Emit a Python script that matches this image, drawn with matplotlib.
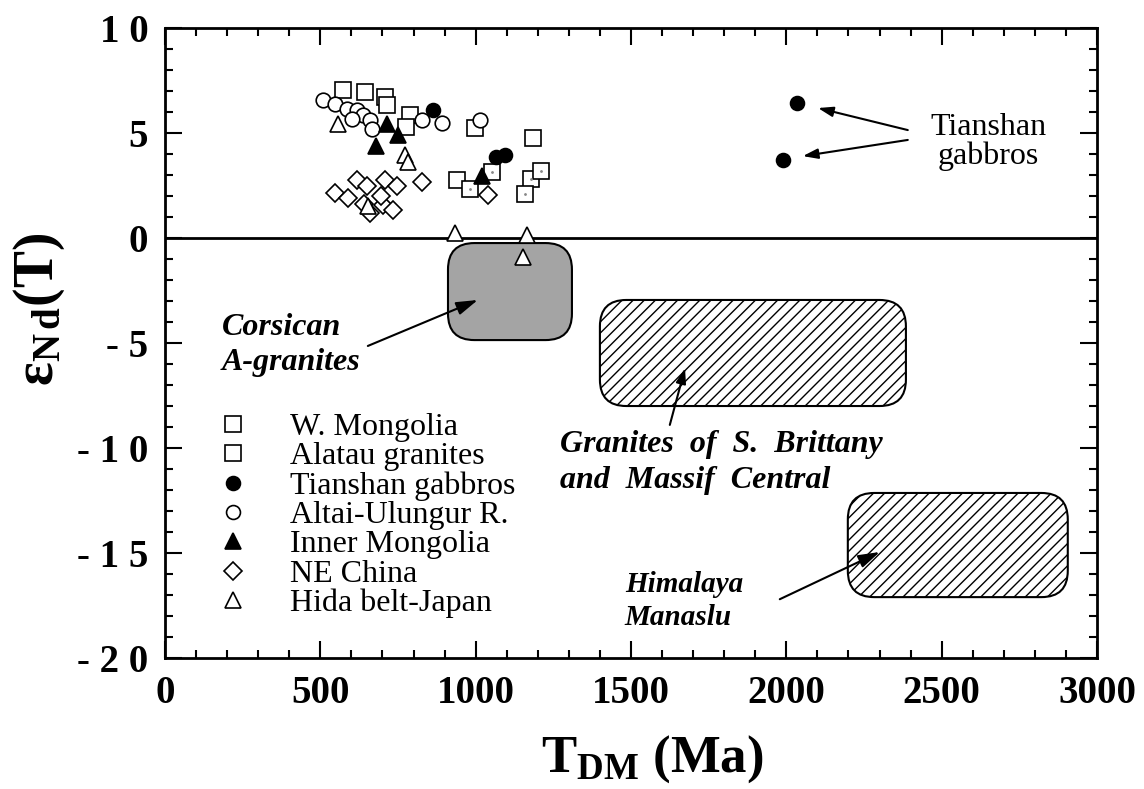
import numpy as np
import matplotlib
matplotlib.use('Agg')
import matplotlib.pyplot as plt
from matplotlib.patches import FancyBboxPatch
from matplotlib.lines import Line2D

plt.rcParams['font.family'] = ['Liberation Serif', 'DejaVu Serif']
plt.rcParams['mathtext.fontset'] = 'custom'
plt.rcParams['mathtext.rm'] = 'Liberation Serif'
plt.rcParams['mathtext.it'] = 'Liberation Serif:italic'
plt.rcParams['mathtext.bf'] = 'Liberation Serif:bold'
plt.rcParams['hatch.linewidth'] = 1.0

# T_DM (Ma) vs eps_Nd(T) for each group
w_mongolia_x = [573, 644, 708, 714, 789, 776, 998, 1184, 940]
w_mongolia_y = [7.05, 6.95, 6.71, 6.33, 5.86, 5.3, 5.24, 4.76, 2.76]

alatau_x = [982, 1052, 1178, 1210, 1159]
alatau_y = [2.33, 3.14, 2.81, 3.19, 2.1]

tianshan_x = [863, 1065, 1094, 2034, 1989]
tianshan_y = [6.1, 3.86, 3.95, 6.43, 3.71]

altai_x = [509, 547, 586, 618, 637, 602, 660, 666, 827, 892, 1014]
altai_y = [6.57, 6.38, 6.14, 6.10, 5.86, 5.67, 5.62, 5.19, 5.62, 5.48, 5.62]

inner_mongolia_x = [714, 750, 679, 1020]
inner_mongolia_y = [5.43, 4.9, 4.38, 2.95]

ne_china_x = [547, 589, 618, 650, 640, 702, 708, 747, 695, 734, 660, 827, 1040]
ne_china_y = [2.14, 1.9, 2.76, 2.48, 1.62, 1.57, 2.76, 2.48, 2.0, 1.33, 1.19, 2.67, 2.05]

hida_x = [557, 772, 782, 933, 1165, 1152, 653]
hida_y = [5.43, 3.95, 3.6, 0.24, 0.14, -0.9, 1.52]

# field outlines: (x0, x1, y0, y1)
corsica_box = (911, 1310, -4.86, -0.24)
brittany_box = (1400, 2385, -8.0, -2.95)
himalaya_box = (2198, 2906, -17.1, -12.14)

x_ticks = [0, 500, 1000, 1500, 2000, 2500, 3000]
y_ticks = [-20, -15, -10, -5, 0, 5, 10]
y_ticklabels = ['- 2 0', '- 1 5', '- 1 0', '- 5', '0', '5', '1 0']

fig = plt.figure(figsize=(11.44, 7.89), dpi=100)
ax = fig.add_axes([0.1442, 0.166, 0.8147, 0.7985])
ax.set_xlim(0, 3000)
ax.set_ylim(-20, 10)

# keep rounded corners round despite very different x/y units
aspect = (30 / 0.7985 / 7.89) / (3000 / 0.8147 / 11.44)


def field(box, **kw):
    x0, x1, y0, y1 = box
    p = FancyBboxPatch((x0, y0), x1 - x0, y1 - y0,
                       boxstyle='round,pad=0,rounding_size=85',
                       mutation_aspect=aspect, lw=1.5, zorder=1, **kw)
    ax.add_patch(p)


field(corsica_box, facecolor='#a4a4a4', edgecolor='black')
field(brittany_box, facecolor='white', edgecolor='black', hatch='///')
field(himalaya_box, facecolor='white', edgecolor='black', hatch='///')

ax.axhline(0, color='black', lw=2, zorder=2)

mk = dict(linestyle='none', markeredgecolor='black', markeredgewidth=1.2, zorder=3)
ax.plot(w_mongolia_x, w_mongolia_y, marker='s', markersize=11, markerfacecolor='white', **mk)
ax.plot(alatau_x, alatau_y, marker='s', markersize=11, markerfacecolor='white', **mk)
ax.plot(alatau_x, alatau_y, marker='.', markersize=2, color='#888888', linestyle='none', zorder=3)
ax.plot(altai_x, altai_y, marker='o', markersize=10.5, markerfacecolor='white', **mk)
ax.plot(ne_china_x, ne_china_y, marker='D', markersize=9, markerfacecolor='white', **mk)
ax.plot(hida_x, hida_y, marker='^', markersize=11, markerfacecolor='white', **mk)
ax.plot(inner_mongolia_x, inner_mongolia_y, marker='^', markersize=11, markerfacecolor='black', **mk)
ax.plot(tianshan_x, tianshan_y, marker='o', markersize=10, markerfacecolor='black', **mk)

# legend
handles = [
    Line2D([], [], marker='s', markersize=11, markerfacecolor='white', **mk),
    Line2D([], [], marker='s', markersize=11, markerfacecolor='white', **mk),
    Line2D([], [], marker='o', markersize=10, markerfacecolor='black', **mk),
    Line2D([], [], marker='o', markersize=10, markerfacecolor='white', **mk),
    Line2D([], [], marker='^', markersize=11, markerfacecolor='black', **mk),
    Line2D([], [], marker='D', markersize=9, markerfacecolor='white', **mk),
    Line2D([], [], marker='^', markersize=11, markerfacecolor='white', **mk),
]
labels = ['W. Mongolia', 'Alatau granites', 'Tianshan gabbros', 'Altai-Ulungur R.',
          'Inner Mongolia', 'NE China', 'Hida belt-Japan']
ax.legend(handles, labels, loc='upper left', bbox_to_anchor=(0.042, 0.41),
          frameon=False, fontsize=23, labelspacing=0.0, handlelength=1.0,
          handletextpad=1.3, borderaxespad=0)

# field labels
lab = dict(fontweight='bold', fontstyle='italic', ha='left', va='center',
           linespacing=1.3)
ax.text(183, -5.1, 'Corsican\nA-granites', fontsize=23, **lab)
ax.text(1271, -10.7, 'Granites  of  S.  Brittany\nand  Massif  Central', fontsize=23, **lab)
ax.text(1480, -17.3, 'Himalaya\nManaslu', fontsize=21, **lab)
ax.text(2650, 4.57, 'Tianshan\ngabbros', fontsize=23, ha='center', va='center',
        linespacing=1.0)

arr = dict(arrowstyle='-|>,head_length=0.9,head_width=0.3', color='black', lw=1.5,
           shrinkA=0, shrinkB=0)
big = dict(arr, arrowstyle='-|>,head_length=1.3,head_width=0.4')
ax.annotate('', xy=(1007, -2.95), xytext=(653, -5.14), arrowprops=big)
ax.annotate('', xy=(1674, -6.2), xytext=(1625, -8.9), arrowprops=arr)
ax.annotate('', xy=(2301, -14.95), xytext=(1979, -17.2), arrowprops=big)
ax.annotate('', xy=(2102, 6.19), xytext=(2391, 5.14), arrowprops=arr)
ax.annotate('', xy=(2053, 3.9), xytext=(2391, 4.67), arrowprops=arr)

# axes styling
ax.set_xticks(x_ticks)
ax.set_xticklabels([str(v) for v in x_ticks])
ax.set_yticks(y_ticks)
ax.set_yticklabels(y_ticklabels)
ax.set_xticks(np.arange(0, 3001, 100), minor=True)
ax.set_yticks(np.arange(-20, 11, 1), minor=True)
ax.tick_params(which='both', direction='in', top=True, right=True, width=1.5)
ax.tick_params(which='major', length=12, labelsize=28, pad=12)
ax.tick_params(which='minor', length=6)
for lbl in ax.get_xticklabels() + ax.get_yticklabels():
    lbl.set_fontweight('bold')
for s in ax.spines.values():
    s.set_linewidth(2)

ax.set_xlabel(r'$\mathbf{T_{DM}}$ (Ma)', fontsize=38, fontweight='bold')
ax.xaxis.set_label_coords(0.5225, -0.12)
ax.set_ylabel(r'$\mathbf{\varepsilon_{N\,d}(T)}$', fontsize=40)
ax.yaxis.set_label_coords(-0.105, 0.554)

fig.savefig('out.png', dpi=100)
